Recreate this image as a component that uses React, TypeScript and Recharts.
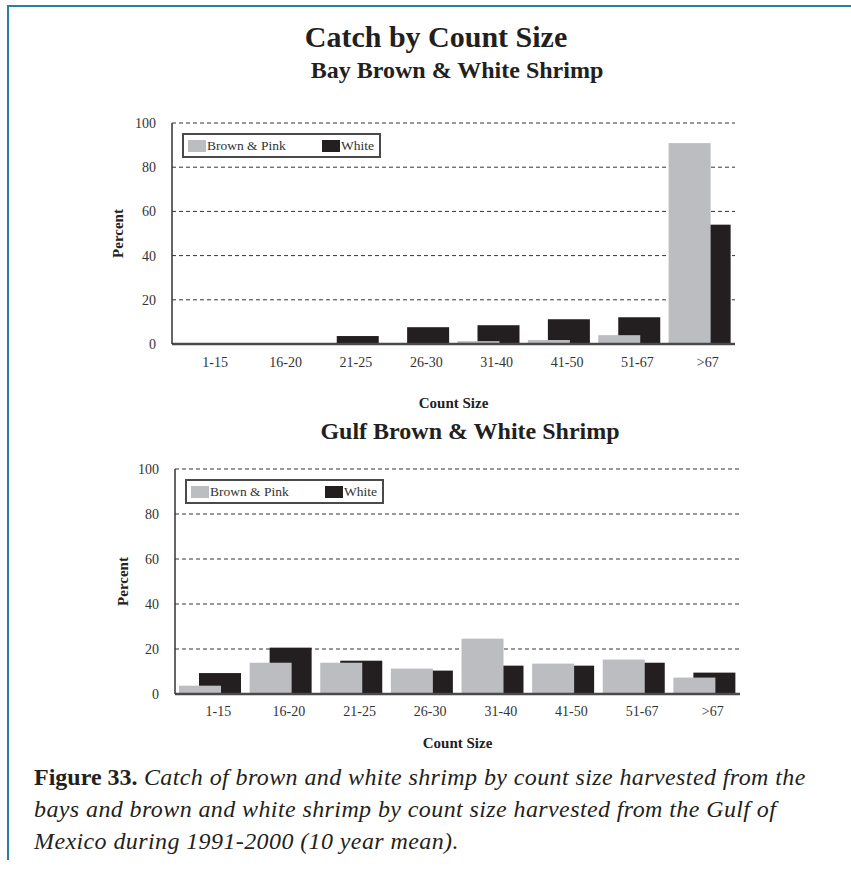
import React from "react";
import { BarChart, Bar, XAxis, YAxis, CartesianGrid, Legend } from "recharts";

const categories = ["1-15", "16-20", "21-25", "26-30", "31-40", "41-50", "51-67", ">67"];
const bayBrownPink = [0, 0, 0.2, 0.3, 1.3, 1.8, 4, 90.9];
const bayWhite = [0, 0, 3.6, 7.6, 8.5, 11.2, 12.1, 54];
const gulfBrownPink = [3.7, 13.9, 13.9, 11.3, 24.6, 13.5, 15.3, 7.3];
const gulfWhite = [9.3, 20.6, 14.8, 10.4, 12.6, 12.6, 13.9, 9.5];
const yTicks = [0, 20, 40, 60, 80, 100];
const seriesNames = ["Brown & Pink", "White"];

const GRAY = "#bcbdc0";
const BLACK = "#231f20";
const SERIF = "'Liberation Serif', 'Times New Roman', serif";
const BAR_SIZE = 42;
const BAR_GAP = -22;
// white is declared first so the gray bar is painted over it; shapes swap them back
const SHIFT = BAR_SIZE + BAR_GAP;

function buildRows(bp: number[], wh: number[]) {
  return categories.map((c, i) => ({ size: c, brownPink: bp[i], white: wh[i] }));
}

const shiftedBar = (dx: number) => (props: any) => {
  const { x, y, width, height, fill } = props;
  if (!height) return <g />;
  return <rect x={x + dx} y={y} width={width} height={height} fill={fill} />;
};

function LegendBox() {
  const item = (color: string, label: string, left: number) => (
    <div style={{ position: "absolute", left, top: 3, display: "flex", alignItems: "center" }}>
      <span style={{ width: 18, height: 12, background: color, display: "inline-block", marginRight: 1 }} />
      <span style={{ fontFamily: SERIF, fontSize: 13.5, color: "#333" }}>{label}</span>
    </div>
  );
  return (
    <div style={{ position: "relative", width: 195, height: 21, border: "2px solid #4a4a4a", background: "#fff" }}>
      {item(GRAY, seriesNames[0], 4)}
      {item(BLACK, seriesNames[1], 138)}
    </div>
  );
}

interface ShrimpChartProps {
  data: { size: string; brownPink: number; white: number }[];
  top: number;
  margin: { top: number; right: number; bottom: number; left: number };
  yWidth: number;
  xHeight: number;
  tickMargin: number;
  legendPos: { left: number; top: number };
}

function ShrimpChart({ data, top, margin, yWidth, xHeight, tickMargin, legendPos }: ShrimpChartProps) {
  return (
    <div style={{ position: "absolute", left: 0, top }}>
      <BarChart width={760} height={320} data={data} margin={margin} barGap={BAR_GAP}>
        <CartesianGrid vertical={false} stroke="#333" strokeDasharray="4 3" />
        <XAxis
          dataKey="size"
          tickLine={false}
          axisLine={{ stroke: "#4a4a4a", strokeWidth: 2.5 }}
          tick={{ fontFamily: SERIF, fontSize: 14, fill: "#333", dx: 8 }}
          tickMargin={tickMargin}
          height={xHeight}
          label={{
            value: "Count Size",
            position: "insideBottom",
            offset: 0,
            style: { fontFamily: SERIF, fontSize: 15, fontWeight: "bold", fill: "#222" },
          }}
        />
        <YAxis
          domain={[0, 100]}
          ticks={yTicks}
          interval={0}
          tickLine={false}
          axisLine={{ stroke: "#333", strokeWidth: 1.5 }}
          tick={{ fontFamily: SERIF, fontSize: 14, fill: "#333" }}
          tickMargin={10}
          width={yWidth}
          label={{
            value: "Percent",
            angle: -90,
            position: "center",
            style: { fontFamily: SERIF, fontSize: 15, fontWeight: "bold", fill: "#222" },
          }}
        />
        <YAxis
          yAxisId="frame"
          orientation="right"
          domain={[0, 100]}
          width={0}
          tick={false}
          tickLine={false}
          axisLine={{ stroke: "#333", strokeWidth: 1.5 }}
        />
        <Legend
          layout="horizontal"
          verticalAlign="middle"
          align="center"
          wrapperStyle={{ position: "absolute", left: legendPos.left, top: legendPos.top, width: 199 }}
          content={() => <LegendBox />}
        />
        <Bar dataKey="white" name={seriesNames[1]} fill={BLACK} barSize={BAR_SIZE} isAnimationActive={false} shape={shiftedBar(SHIFT)} />
        <Bar dataKey="brownPink" name={seriesNames[0]} fill={GRAY} barSize={BAR_SIZE} isAnimationActive={false} shape={shiftedBar(-SHIFT)} />
      </BarChart>
    </div>
  );
}

export default function App() {
  const title = (text: string, center: number, top: number, size: number) => (
    <div
      style={{
        position: "absolute",
        left: center - 300,
        width: 600,
        top,
        textAlign: "center",
        fontFamily: SERIF,
        fontWeight: "bold",
        fontSize: size,
        color: "#231f20",
        whiteSpace: "nowrap",
      }}
    >
      {text}
    </div>
  );
  const captionLine = (content: React.ReactNode, top: number) => (
    <div
      style={{
        position: "absolute",
        left: 34,
        top,
        fontFamily: SERIF,
        fontStyle: "italic",
        fontSize: 24,
        letterSpacing: 0.4,
        color: "#231f20",
        whiteSpace: "nowrap",
      }}
    >
      {content}
    </div>
  );
  return (
    <div style={{ position: "absolute", left: 0, top: 0, width: 851, height: 871, background: "#fff", overflow: "hidden" }}>
      <div style={{ position: "absolute", left: 7, top: 5, width: 844, height: 2, background: "#2a7fa3" }} />
      <div style={{ position: "absolute", left: 7, top: 5, width: 2, height: 855, background: "#2a7fa3" }} />
      {title("Catch by Count Size", 436, 20, 30)}
      {title("Bay Brown & White Shrimp", 457, 57, 24)}
      {title("Gulf Brown & White Shrimp", 470, 418, 24)}
      <ShrimpChart
        data={buildRows(bayBrownPink, bayWhite)}
        top={100}
        margin={{ top: 23, right: 25, bottom: 12, left: 64 }}
        yWidth={108}
        xHeight={64}
        tickMargin={7}
        legendPos={{ left: 182, top: 33 }}
      />
      <ShrimpChart
        data={buildRows(gulfBrownPink, gulfWhite)}
        top={440}
        margin={{ top: 29, right: 20, bottom: 12, left: 71 }}
        yWidth={104}
        xHeight={54}
        tickMargin={6}
        legendPos={{ left: 185, top: 39 }}
      />
      {captionLine(
        <>
          <span style={{ fontStyle: "normal", fontWeight: "bold", letterSpacing: 0 }}>Figure 33.</span>
          {"  Catch of brown and white shrimp by count size harvested from the"}
        </>,
        764
      )}
      {captionLine("bays and brown and white shrimp by count size harvested from the Gulf of", 796)}
      {captionLine("Mexico during 1991-2000 (10 year mean).", 828)}
    </div>
  );
}
